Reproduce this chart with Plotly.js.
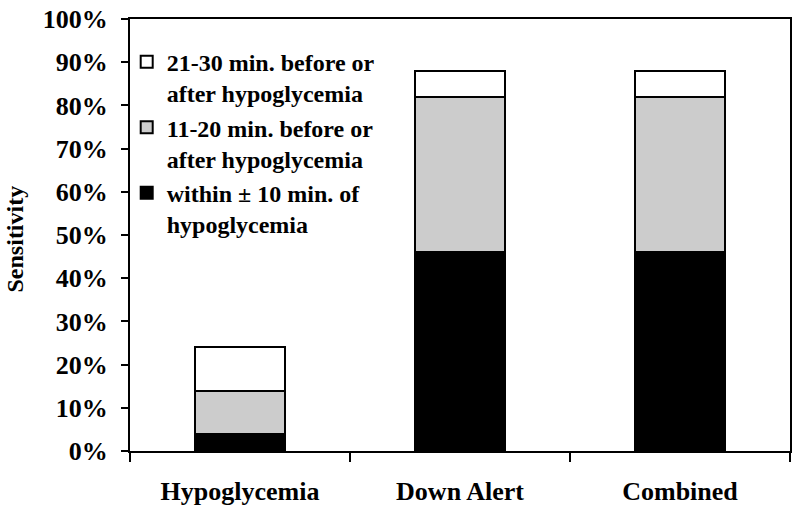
<!DOCTYPE html>
<html>
<head>
<meta charset="utf-8">
<script src="https://cdn.plot.ly/plotly-3.0.1.min.js"></script>
<style>html,body{margin:0;padding:0;background:#fff;}#chart{width:800px;height:515px;}</style>
</head>
<body>
<div id="chart"></div>
<script>
var categories = ["Hypoglycemia", "Down Alert", "Combined"];
var within10 = [0.04, 0.46, 0.46];
var min11to20 = [0.10, 0.36, 0.36];
var min21to30 = [0.10, 0.06, 0.06];
var seriesNames = [
  "within \u00b1 10 min. of<br>hypoglycemia",
  "11-20 min. before or<br>after hypoglycemia",
  "21-30 min. before or<br>after hypoglycemia"
];
var yTitle = "Sensitivity";
var yTickVals = [0, 0.1, 0.2, 0.3, 0.4, 0.5, 0.6, 0.7, 0.8, 0.9, 1.0];

var fontFam = "Liberation Serif";
function barTrace(vals, name, color) {
  return {
    type: "bar", x: categories, y: vals, name: name,
    marker: {color: color, line: {color: "#000", width: 2}},
    hoverinfo: "none"
  };
}
var data = [
  barTrace(within10, seriesNames[0], "#000000"),
  barTrace(min11to20, seriesNames[1], "#cccccc"),
  barTrace(min21to30, seriesNames[2], "#ffffff")
];
var layout = {
  width: 800, height: 515,
  margin: {l: 130, r: 10, t: 19, b: 64},
  paper_bgcolor: "#fff", plot_bgcolor: "#fff",
  barmode: "stack", bargap: 0.59,
  font: {family: fontFam, color: "#000", size: 24, weight: "bold"},
  showlegend: true,
  legend: {
    x: -0.005, y: 0.952, xanchor: "left", yanchor: "top",
    traceorder: "reversed", valign: "top",
    bgcolor: "rgba(0,0,0,0)", tracegroupgap: 3,
    font: {family: fontFam, size: 24, color: "#000", weight: "bold"}
  },
  xaxis: {
    type: "category", range: [-0.5, 2.5],
    showline: true, linecolor: "#000", linewidth: 2, mirror: true,
    ticks: "outside", tickson: "boundaries", ticklen: 9, tickwidth: 2, tickcolor: "#000",
    ticklabelstandoff: 16,
    showgrid: false, zeroline: false,
    tickfont: {family: fontFam, size: 26, color: "#000", weight: "bold"}
  },
  yaxis: {
    range: [0, 1], tickvals: yTickVals, tickformat: ".0%",
    showline: true, linecolor: "#000", linewidth: 2, mirror: true,
    ticks: "outside", ticklen: 7, tickwidth: 2, tickcolor: "#000",
    ticklabelstandoff: 8,
    showgrid: false, zeroline: false,
    tickfont: {family: fontFam, size: 26, color: "#000", weight: "bold"}
  },
  annotations: [{
    text: yTitle, textangle: -90, showarrow: false,
    xref: "paper", yref: "paper", x: -0.174, y: 0.49,
    xanchor: "center", yanchor: "middle",
    font: {family: fontFam, size: 24, color: "#000", weight: "bold"}
  }]
};
Plotly.newPlot("chart", data, layout, {staticPlot: true, displayModeBar: false});
</script>
</body>
</html>
